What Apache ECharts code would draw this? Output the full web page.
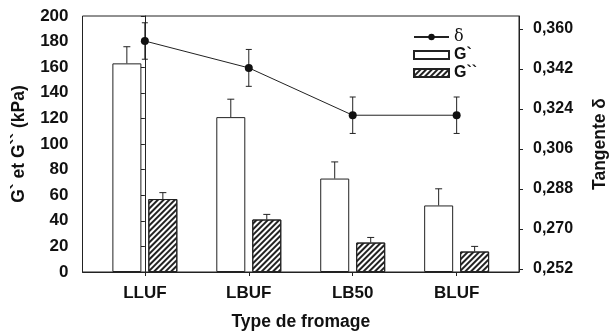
<!DOCTYPE html>
<html>
<head>
<meta charset="utf-8">
<script src="https://cdn.jsdelivr.net/npm/echarts@6/dist/echarts.min.js"></script>
<style>html,body{margin:0;padding:0;background:#fff}#c{width:612px;height:333px}</style>
</head>
<body>
<div id="c"></div>
<script>
const categories = ['LLUF', 'LBUF', 'LB50', 'BLUF'];
const gPrime = [163, 121, 73, 52];
const gPrimeErr = [13, 14, 13, 13];
const gSecond = [57, 41, 23, 16];
const gSecondErr = [5, 4, 4, 4];
const tanDelta = [0.3546, 0.3425, 0.3212, 0.3212];
const tanDeltaErr = [0.0082, 0.0083, 0.0082, 0.0082];
const rightTicks = [0.252, 0.270, 0.288, 0.306, 0.324, 0.342, 0.360];
const catIdx = [0, 1, 2, 3];

const FONT = '"Liberation Sans", Arial, sans-serif';
const INK = '#111';
const BAR_W = 29, BAR_OFF = 18;

const chart = echarts.init(document.getElementById('c'), null, {renderer: 'canvas'});

function errRender(offsetPx, both, capW) {
  return function (params, api) {
    const x = api.value(0), y = api.value(1), e = api.value(2);
    const pTop = api.coord([x, y + e]);
    const pMid = api.coord([x, y]);
    const pBot = api.coord([x, both ? y - e : y]);
    const cx = pMid[0] + offsetPx;
    const style = {stroke: '#222', lineWidth: 1};
    const children = [
      {type: 'line', shape: {x1: cx, y1: pTop[1], x2: cx, y2: pBot[1]}, style},
      {type: 'line', shape: {x1: cx - capW / 2, y1: pTop[1], x2: cx + capW / 2, y2: pTop[1]}, style}
    ];
    if (both) children.push({type: 'line', shape: {x1: cx - capW / 2, y1: pBot[1], x2: cx + capW / 2, y2: pBot[1]}, style});
    return {type: 'group', children};
  };
}

const nameStyle = {fontFamily: FONT, fontWeight: 'bold', fontSize: 17.5, color: INK};

const option = {
  animation: false,
  backgroundColor: '#fff',
  grid: {left: 82.5, right: 93, top: 16, bottom: 61, outerBoundsMode: 'none', containLabel: false,
    show: true, borderColor: '#222', borderWidth: 1, backgroundColor: 'transparent'},
  legend: {
    orient: 'vertical', left: 408, top: 24, itemWidth: 35, itemHeight: 8, itemGap: 2,
    textStyle: {fontFamily: FONT, fontWeight: 'bold', fontSize: 16, color: INK,
      rich: {d: {fontFamily: '"DejaVu Serif", serif', fontWeight: 'normal', fontSize: 16, color: INK}}},
    formatter: n => n === 'δ' ? '{d|δ}' : n,
    data: [{name: 'δ'}, {name: 'G`', icon: 'rect'}, {name: 'G``', icon: 'rect'}]
  },
  xAxis: {
    type: 'value', min: -0.6, max: 3.6,
    name: 'Type de fromage', nameLocation: 'middle', nameGap: 41,
    nameTextStyle: nameStyle,
    axisLine: {lineStyle: {color: '#222'}},
    axisTick: {show: true, length: 4, customValues: catIdx, lineStyle: {color: '#222'}},
    axisLabel: {customValues: catIdx, margin: 13, formatter: v => categories[Math.round(v)],
      fontFamily: FONT, fontWeight: 'bold', fontSize: 17, color: INK},
    splitLine: {show: false}
  },
  yAxis: [{
    type: 'value', min: 0, max: 200, interval: 20, position: 'left',
    name: 'G` et G`` (kPa)', nameLocation: 'middle', nameGap: 54, nameRotate: 90,
    nameTextStyle: nameStyle,
    axisLine: {show: true, lineStyle: {color: '#222'}},
    axisTick: {show: true, length: 4, lineStyle: {color: '#222'}},
    axisLabel: {margin: 14, fontFamily: FONT, fontWeight: 'bold', fontSize: 17, color: INK},
    splitLine: {show: false}
  }, {
    type: 'value', min: 0.25065, max: 0.36585, position: 'right',
    name: 'Tangente δ', nameLocation: 'middle', nameGap: 72, nameRotate: 90,
    nameTextStyle: nameStyle,
    axisLine: {show: true, lineStyle: {color: '#222'}},
    axisTick: {show: true, length: 4, customValues: rightTicks, lineStyle: {color: '#222'}},
    axisLabel: {customValues: rightTicks, margin: 14, formatter: v => v.toFixed(3).replace('.', ','),
      fontFamily: FONT, fontWeight: 'bold', fontSize: 16, color: INK},
    splitLine: {show: false}
  }],
  series: [
    {
      name: 'G`', type: 'bar', xAxisIndex: 0, yAxisIndex: 0, barWidth: BAR_W, barGap: '24%',
      itemStyle: {color: '#fff', borderColor: '#222', borderWidth: 1},
      data: catIdx.map(i => [i, gPrime[i]]), z: 2
    },
    {
      name: 'G``', type: 'bar', xAxisIndex: 0, yAxisIndex: 0, barWidth: BAR_W, barGap: '24%',
      itemStyle: {color: '#fff', borderColor: '#222', borderWidth: 1,
        decal: {symbol: 'rect', symbolSize: 1, dashArrayX: [1, 0], dashArrayY: [1.3, 2], rotation: -Math.PI / 4, color: '#222'}},
      data: catIdx.map(i => [i, gSecond[i]]), z: 2
    },
    {
      name: 'G`err', type: 'custom', yAxisIndex: 0, renderItem: errRender(-BAR_OFF, false, 7),
      data: catIdx.map(i => [i, gPrime[i], gPrimeErr[i]]), z: 3, silent: true
    },
    {
      name: 'G``err', type: 'custom', yAxisIndex: 0, renderItem: errRender(BAR_OFF, false, 7),
      data: catIdx.map(i => [i, gSecond[i], gSecondErr[i]]), z: 3, silent: true
    },
    {
      name: 'δerr', type: 'custom', yAxisIndex: 1, renderItem: errRender(0, true, 6),
      data: catIdx.map(i => [i, tanDelta[i], tanDeltaErr[i]]), z: 3, silent: true
    },
    {
      name: 'δ', type: 'line', yAxisIndex: 1, symbol: 'circle', symbolSize: 8,
      lineStyle: {color: '#222', width: 1}, itemStyle: {color: '#111'},
      data: catIdx.map(i => [i, tanDelta[i]]), z: 4
    }
  ]
};
chart.setOption(option);
</script>
</body>
</html>
